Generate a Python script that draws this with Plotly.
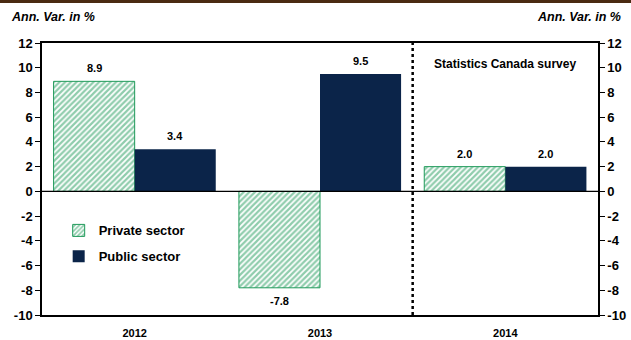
import plotly.graph_objects as go

years = ["2012", "2013", "2014"]
private = [8.9, -7.8, 2.0]
public = [3.4, 9.5, 2.0]
yticks = [-10, -8, -6, -4, -2, 0, 2, 4, 6, 8, 10, 12]

green = "#1f9a5a"
navy = "#0b2449"
font = "Arial, Liberation Sans, sans-serif"

fig = go.Figure()
fig.add_trace(go.Bar(
    x=years, y=private, name="<b>Private sector</b>", legendgroup="a",
    marker=dict(color="white", line=dict(color=green, width=1),
                pattern=dict(shape="/", fgcolor=green, bgcolor="white", size=4, solidity=0.55)),
))
fig.add_trace(go.Bar(
    x=years, y=public, name="<b>Public sector</b>", legendgroup="b",
    marker=dict(color=navy, line=dict(color=navy, width=0)),
))

# value labels
for vals, dx in ((private, -40.5), (public, 40.5)):
    for i, v in enumerate(vals):
        fig.add_annotation(xref="x", yref="y", x=i, y=v, xshift=dx,
                           yshift=13 if v >= 0 else -13, showarrow=False,
                           text=f"<b>{v:.1f}</b>",
                           font=dict(family=font, size=11, color="black"))

axis_common = dict(
    range=[-10, 12], tickvals=yticks, ticktext=[f"<b>{v}</b>" for v in yticks],
    ticks="outside", ticklen=5, tickwidth=1, automargin=False,
    tickcolor="black", showline=True, linecolor="black", linewidth=1.5,
    showgrid=False, zeroline=False,
    tickfont=dict(family=font, size=13, color="black"),
)

fig.update_layout(
    width=631, height=340,
    margin=dict(l=42, r=33, t=43, b=25),
    paper_bgcolor="white", plot_bgcolor="white",
    barmode="group", bargap=0.125, bargroupgap=0,
    showlegend=True,
    legend=dict(x=0.03, y=0.366, xanchor="left", yanchor="top",
                bgcolor="rgba(0,0,0,0)", tracegroupgap=6,
                font=dict(family=font, size=13, color="black"),
                itemwidth=30),
    xaxis=dict(type="category", range=[-0.5, 2.5],
               showline=True, linecolor="black", linewidth=1.5, mirror=True,
               ticks="", showgrid=False, automargin=False, ticklabelstandoff=7,
               tickvals=years, ticktext=[f"<b>{y}</b>" for y in years],
               tickfont=dict(family=font, size=11, color="black")),
    yaxis=dict(**axis_common),
    yaxis2=dict(**axis_common, overlaying="y", side="right", matches="y"),
)

# invisible trace for the right axis
fig.add_trace(go.Scatter(x=years, y=[0, 0, 0], yaxis="y2", mode="lines",
                         line=dict(width=0), showlegend=False, hoverinfo="skip"))

# zero line
fig.add_shape(type="line", xref="paper", yref="y", x0=0, x1=1, y0=0, y1=0,
              line=dict(color="black", width=1.2))
# dotted separator
fig.add_shape(type="line", xref="x", yref="y", x0=1.5, x1=1.5, y0=-10, y1=12,
              line=dict(color="black", width=2.5, dash="dot"))
# top brown band
fig.add_shape(type="rect", xref="paper", yref="paper", x0=-0.1, x1=1.1,
              y0=1 + 40 / 272, y1=1 + 50 / 272,
              fillcolor="#4a2a12", line=dict(width=0), layer="above")

fig.add_annotation(xref="paper", yref="paper", x=-33 / 556, y=1 + 26 / 272,
                   xanchor="left", yanchor="middle", showarrow=False,
                   text="<b><i>Ann. Var. in %</i></b>",
                   font=dict(family=font, size=12.5, color="black"))
fig.add_annotation(xref="paper", yref="paper", x=1 + 25 / 556, y=1 + 26 / 272,
                   xanchor="right", yanchor="middle", showarrow=False,
                   text="<b><i>Ann. Var. in %</i></b>",
                   font=dict(family=font, size=12.5, color="black"))
fig.add_annotation(xref="x", yref="y", x=2, y=10.3, showarrow=False,
                   text="<b>Statistics Canada survey</b>",
                   font=dict(family=font, size=12, color="black"))

fig.write_html("out.html")
